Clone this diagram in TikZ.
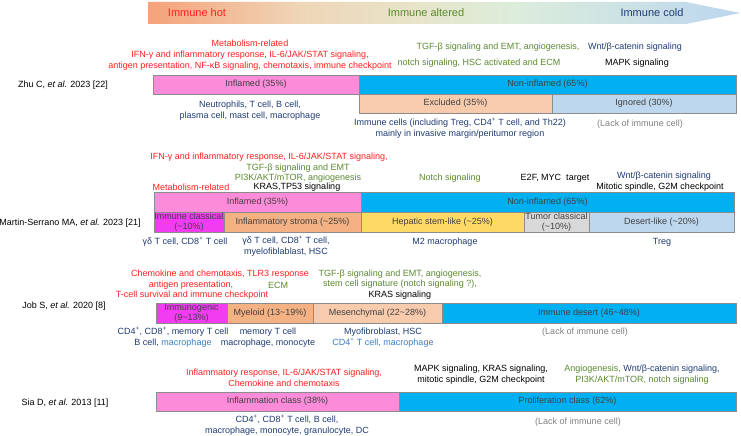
\documentclass[tikz,border=0pt]{standalone}
\usepackage{fontspec}
\setmainfont{Liberation Sans}
\definecolor{tred}{HTML}{FF1F1F}
\definecolor{tgreen}{HTML}{5B8A30}
\definecolor{tnavy}{HTML}{1F3C74}
\definecolor{lblue}{HTML}{3A7FC4}
\definecolor{tgray}{HTML}{808080}
\definecolor{boxtext}{HTML}{404040}
\definecolor{bord}{HTML}{8C8C8C}
\definecolor{cpink}{HTML}{FC8CDA}
\definecolor{ccyan}{HTML}{00B0F0}
\definecolor{cpeach}{HTML}{F8CBAD}
\definecolor{cpale}{HTML}{BDD7EE}
\definecolor{cmag}{HTML}{F23CF2}
\definecolor{corange}{HTML}{F4B183}
\definecolor{cyellow}{HTML}{FFD966}
\definecolor{cgrey}{HTML}{D9D9D9}
\definecolor{gA}{HTML}{F5A27A}
\definecolor{gB}{HTML}{EFD6B8}
\definecolor{gC}{HTML}{E6E6CC}
\definecolor{gD}{HTML}{DCEDDC}
\definecolor{gE}{HTML}{BCD6EE}
\pgfdeclarehorizontalshading{immgrad}{100bp}{color(0bp)=(gA); color(25bp)=(gA); color(38bp)=(gB); color(49bp)=(gC); color(56bp)=(gD); color(75bp)=(gE); color(100bp)=(gE)}
\newcommand\bodyfont{\fontsize{9}{11}\selectfont}
\newcommand\segbox[7]{\node[segment, fill=#2, minimum width={(#4-#3)*1pt}, minimum height={(#6-#5)*1pt}] (#1) at ({(#3+#4)/2},{(#5+#6)/2}) {#7};}
\begin{document}
\begin{tikzpicture}[x=1pt,y=-1pt,
  txt/.style={inner sep=0pt, align=center, font=\bodyfont},
  ttl/.style={inner sep=0pt, font=\fontsize{11}{13}\selectfont},
  segment/.style={draw=bord, line width=0.8pt, inner sep=0pt, text=boxtext, align=center, font=\fontsize{9}{10}\selectfont},
  lab/.style={inner sep=0pt, font=\bodyfont, text=black}]
\fill[white] (0,0) rectangle (741,436);
\useasboundingbox (0,0) rectangle (741,436);

% top gradient arrow
\shade[shading=immgrad] (148,2) -- (686,2) -- (740,13) -- (686,24) -- (148,24) -- cycle;
\node[ttl, text=tred] (hot) at (197,13) {Immune hot};
\node[ttl, text=tgreen] (altered) at (426,13) {Immune altered};
\node[ttl, text=tnavy] (cold) at (652,13) {Immune cold};

% ---------------- Zhu C ----------------
\node[lab] (zhulab) at (63,85) {Zhu C, \textit{et al.} 2023 [22]};
\node[txt, text=tred] (zhured) at (250,55) {Metabolism-related\\IFN-γ and inflammatory response, IL-6/JAK/STAT signaling,\\antigen presentation, NF-κB signaling, chemotaxis, immune checkpoint};
\node[txt, text=tgreen] (zhugr1) at (498,47) {TGF-β signaling and EMT, angiogenesis,};
\node[txt, text=tgreen] (zhugr2) at (479,63) {notch signaling, HSC activated and ECM};
\node[txt, text=tnavy] (zhuwnt) at (635,47) {Wnt/β-catenin signaling};
\node[txt, text=black] (zhumapk) at (637,63) {MAPK signaling};
\segbox{zhuinf}{cpink}{153}{359}{75}{94}{Inflamed (35\%)}
\segbox{zhunon}{ccyan}{359}{736}{75}{94}{Non-inflamed (65\%)}
\segbox{zhuexc}{cpeach}{359}{552}{94}{113}{Excluded (35\%)}
\segbox{zhuign}{cpale}{552}{736}{94}{113}{Ignored (30\%)}
\node[txt, text=tnavy] (zhucell1) at (250,110.5) {Neutrophils, T cell, B cell,\\plasma cell, mast cell, macrophage};
\node[txt, text=tnavy] (zhucell2) at (460,128.5) {Immune cells (including Treg, CD4\textsuperscript{+} T cell, and Th22)\\mainly in invasive margin/peritumor region};
\node[txt, text=tgray] (zhulack) at (640,124) {(Lack of immune cell)};

% ---------------- Martin-Serrano ----------------
\node[lab] (mslab) at (70,223) {Martin-Serrano MA, \textit{et al.} 2023 [21]};
\node[txt, text=tred] (msred) at (269,157) {IFN-γ and inflammatory response, IL-6/JAK/STAT signaling,};
\node[txt, text=tgreen, font=\fontsize{9}{10}\selectfont] (msgreen) at (298,173) {TGF-β signaling and EMT\\PI3K/AKT/mTOR, angiogenesis};
\node[txt, text=tred] (msmeta) at (191,187) {Metabolism-related};
\node[txt, text=black] (mskras) at (297,187) {KRAS,TP53 signaling};
\node[txt, text=tgreen] (msnotch) at (450,178) {Notch signaling};
\node[txt, text=black] (mse2f) at (555,178) {E2F, MYC\ \ target};
\node[txt, text=tnavy] (mswnt) at (664,176) {Wnt/β-catenin signaling};
\node[txt, text=black] (msmit) at (660,187) {Mitotic spindle, G2M checkpoint};
\segbox{msinf}{cpink}{154}{361}{192}{212}{Inflamed (35\%)}
\segbox{msnon}{ccyan}{361}{734}{192}{212}{Non-inflamed (65\%)}
\segbox{msimm}{cmag}{154}{224}{212}{232}{Immune classical\\(\textasciitilde10\%)}
\segbox{msstr}{corange}{224}{361}{212}{232}{Inflammatory stroma (\textasciitilde25\%)}
\segbox{mshep}{cyellow}{361}{524}{212}{232}{Hepatic stem-like (\textasciitilde25\%)}
\segbox{mstum}{cgrey}{524}{589}{212}{232}{Tumor classical\\(\textasciitilde10\%)}
\segbox{msdes}{cpale}{589}{734}{212}{232}{Desert-like (\textasciitilde20\%)}
\node[txt, text=tnavy] (mscell1) at (185,242) {γδ T cell, CD8\textsuperscript{+} T cell};
\node[txt, text=tnavy] (mscell2) at (286,246.5) {γδ T cell, CD8\textsuperscript{+} T cell,\\myelofiblablast, HSC};
\node[txt, text=tnavy] (mscell3) at (445,242) {M2 macrophage};
\node[txt, text=tnavy] (mscell4) at (662,242) {Treg};

% ---------------- Job S ----------------
\node[lab] (joblab) at (64,306) {Job S, \textit{et al.} 2020 [8]};
\node[txt, text=tred] (jobred1) at (220,274) {Chemokine and chemotaxis, TLR3 response};
\node[txt, text=tred] (jobred2) at (191,285) {antigen presentation,};
\node[txt, text=tred] (jobred3) at (192,295.5) {T-cell survival and immune checkpoint};
\node[txt, text=tgreen] (jobecm) at (278,285) {ECM};
\node[txt, text=tgreen, font=\fontsize{9}{10.7}\selectfont] (jobgreen) at (400,284.5) {TGF-β signaling and EMT, angiogenesis,\\stem cell signature (notch signaling ?),\\\textcolor{black}{KRAS signaling}};
\segbox{jobimm}{cmag}{156}{227}{303}{323}{Immunogenic\\(9\textasciitilde13\%)}
\segbox{jobmye}{corange}{227}{313}{303}{323}{Myeloid (13\textasciitilde19\%)}
\segbox{jobmes}{cpeach}{313}{442}{303}{323}{Mesenchymal (22\textasciitilde28\%)}
\segbox{jobdes}{ccyan}{442}{736}{303}{323}{Immune desert (46\textasciitilde48\%)}
\node[txt, text=tnavy] (jobcell1) at (173,337.5) {CD4\textsuperscript{+}, CD8\textsuperscript{+}, memory T cell\\B cell, \textcolor{lblue}{macrophage}};
\node[txt, text=tnavy] (jobcell2) at (268,337.5) {memory T cell\\macrophage, monocyte};
\node[txt, text=tnavy] (jobcell3) at (383,337.5) {Myofibroblast, HSC\\\textcolor{lblue}{CD4\textsuperscript{+} T cell, macrophage}};
\node[txt, text=tgray] (joblack) at (585,332) {(Lack of immune cell)};

% ---------------- Sia D ----------------
\node[lab] (sialab) at (65,403) {Sia D, \textit{et al.} 2013 [11]};
\node[txt, text=tred] (siared) at (284,377.5) {Inflammatory response, IL-6/JAK/STAT signaling,\\Chemokine and chemotaxis};
\node[txt, text=black] (siablack) at (481,375) {MAPK signaling, KRAS signaling,\\mitotic spindle, G2M checkpoint};
\node[txt, text=tgreen] (siagreen) at (642,375) {Angiogenesis, \textcolor{tnavy}{Wnt/β-catenin signaling,}\\PI3K/AKT/mTOR, notch signaling};
\segbox{siainf}{cpink}{156}{399}{392}{411}{Inflammation class (38\%)}
\segbox{siapro}{ccyan}{399}{736}{392}{411}{Proliferation class (62\%)}
\node[txt, text=tnavy] (siacell) at (287,425.5) {CD4\textsuperscript{+}, CD8\textsuperscript{+} T cell, B cell,\\macrophage, monocyte, granulocyte, DC};
\node[txt, text=tgray] (sialack) at (578,422) {(Lack of immune cell)};
\end{tikzpicture}
\end{document}
